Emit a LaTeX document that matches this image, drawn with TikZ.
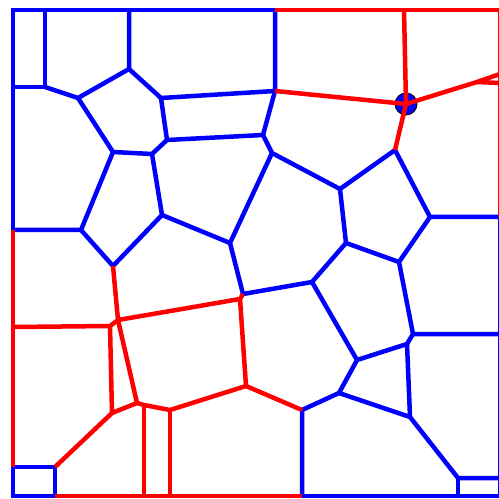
\documentclass[tikz,border=0pt]{standalone}
\usepackage{tikz}

\begin{document}
\begin{tikzpicture}[x=0.02cm,y=-0.02cm,
    blueedge/.style={blue,line width=0.09cm},
    rededge/.style={red,line width=0.09cm}]
  \useasboundingbox (0,0) rectangle (499,499);
  % frame corners
  \coordinate (tl) at (13,10);
  \coordinate (tr) at (500,10);
  \coordinate (br) at (500,496);
  \coordinate (bl) at (13,496);
  % cell vertices
  \coordinate (a1) at (45,10);   \coordinate (a2) at (45,87);   \coordinate (a3) at (13,87);
  \coordinate (b1) at (129,10);  \coordinate (b2) at (129,69);
  \coordinate (c) at (78,98);    \coordinate (d) at (161,98);
  \coordinate (e) at (275,10);   \coordinate (f) at (275,91);
  \coordinate (g) at (167,140);  \coordinate (h) at (263,135);
  \coordinate (i) at (113,152);  \coordinate (j) at (152,154);
  \coordinate (k) at (272,153);  \coordinate (l) at (162,215);
  \coordinate (m) at (81,230);   \coordinate (n) at (13,230);
  \coordinate (o) at (230,243);  \coordinate (p) at (113,266);
  \coordinate (q) at (340,189);  \coordinate (r) at (395,150);
  \coordinate (s) at (430,217);  \coordinate (s2) at (500,217);
  \coordinate (t) at (346,243);  \coordinate (u) at (399,262);
  \coordinate (v) at (243,294);  \coordinate (v2) at (240,299);
  \coordinate (w) at (312,282);
  \coordinate (x) at (413,334);  \coordinate (x2) at (500,334);
  \coordinate (y) at (407,344);  \coordinate (z) at (357,360);
  \coordinate (aa) at (339,393); \coordinate (bb) at (410,417);
  \coordinate (cc) at (302,410); \coordinate (cc2) at (302,496);
  \coordinate (dd) at (458,478); \coordinate (dd2) at (500,478); \coordinate (dd3) at (458,496);
  % red part
  \coordinate (site) at (406,104); \coordinate (top) at (404,10);
  \coordinate (rt) at (477,82);    \coordinate (rt1) at (500,74); \coordinate (rt2) at (500,83);
  \coordinate (E) at (118,320);    \coordinate (D) at (110,326);  \coordinate (D1) at (13,327);
  \coordinate (C) at (112,413);    \coordinate (H) at (137,403);
  \coordinate (H2) at (144,405);   \coordinate (I) at (170,410);
  \coordinate (H3) at (144,496);   \coordinate (I2) at (170,496);
  \coordinate (G) at (246,386);
  \coordinate (sq1) at (13,467);   \coordinate (sq2) at (55,467); \coordinate (sq3) at (55,496);

  % blue edges
  \draw[blueedge] (n) -- (tl) -- (e);
  \draw[blueedge] (s2) -- (br) -- (cc2);
  \draw[blueedge] (sq1) rectangle (sq3);
  \draw[blueedge] (a1) -- (a2) -- (a3);
  \draw[blueedge] (b1) -- (b2) -- (d) -- (f) -- (e);
  \draw[blueedge] (a2) -- (c) -- (b2);
  \draw[blueedge] (d) -- (g) -- (h) -- (f);
  \draw[blueedge] (h) -- (k) -- (q) -- (r) -- (s) -- (s2);
  \draw[blueedge] (q) -- (t) -- (u) -- (s);
  \draw[blueedge] (k) -- (o) -- (v) -- (w) -- (t);
  \draw[blueedge] (c) -- (i) -- (j) -- (g);
  \draw[blueedge] (j) -- (l) -- (o);
  \draw[blueedge] (n) -- (m) -- (i);
  \draw[blueedge] (m) -- (p) -- (l);
  \draw[blueedge] (u) -- (x) -- (x2);
  \draw[blueedge] (x) -- (y) -- (z) -- (w);
  \draw[blueedge] (y) -- (bb) -- (aa) -- (z);
  \draw[blueedge] (aa) -- (cc) -- (cc2);
  \draw[blueedge] (bb) -- (dd) -- (dd2);
  \draw[blueedge] (dd) -- (dd3);

  % marked site
  \filldraw[fill=blue,draw=black,line width=0.5pt] (site) circle (11);

  % red edges
  \draw[rededge] (e) -- (tr) -- (s2);
  \draw[rededge] (n) -- (sq1);
  \draw[rededge] (sq3) -- (cc2);
  \draw[rededge] (f) -- (site) -- (r);
  \draw[rededge] (top) -- (site) -- (rt) -- (rt1);
  \draw[rededge] (rt) -- (rt2);
  \draw[rededge] (p) -- (E) -- (D) -- (D1);
  \draw[rededge] (D) -- (C) -- (sq2);
  \draw[rededge] (E) -- (H) -- (H2) -- (I) -- (G);
  \draw[rededge] (C) -- (H);
  \draw[rededge] (H2) -- (H3);
  \draw[rededge] (I) -- (I2);
  \draw[rededge] (E) -- (v2) -- (v);
  \draw[rededge] (v2) -- (G) -- (cc);
\end{tikzpicture}
\end{document}
